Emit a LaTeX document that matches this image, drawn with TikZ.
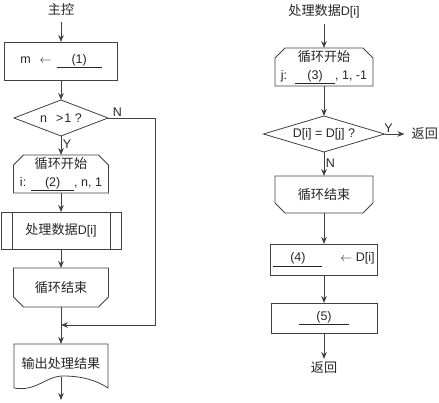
\documentclass[tikz,border=0pt]{standalone}
\usepackage{fontspec}
\setmainfont{Liberation Sans}
\newfontfamily\cjk[Scale=1.05]{Noto Sans CJK SC}
\usetikzlibrary{arrows.meta,positioning,shapes.geometric}
\tikzset{
    %Define standard arrow tip
    >={Stealth[length=7pt,width=5.5pt]},
    %Define style for boxes
    base/.style={
           draw=black!75,
           line width=0.8pt,
           inner sep=0pt,
           outer sep=0pt,
           font=\fontsize{12.5}{18}\selectfont,
           text=black!85,
           align=center},
    procbox/.style={
           base,
           rectangle,
           minimum width=113pt,
           minimum height=38pt},
    decision/.style={
           base,
           diamond,
           aspect=3,
           minimum width=94pt,
           minimum height=36pt},
    loopstart/.style={
           base,
           draw=none,
           rectangle,
           minimum width=95pt,
           minimum height=38pt,
           append after command={\pgfextra{
             \draw[line] ([yshift=-10pt]\tikzlastnode.north west) -- ([xshift=10pt]\tikzlastnode.north west)
               -- ([xshift=-10pt]\tikzlastnode.north east) -- ([yshift=-10pt]\tikzlastnode.north east)
               -- (\tikzlastnode.south east) -- (\tikzlastnode.south west) -- cycle;}}},
    loopend/.style={
           base,
           draw=none,
           rectangle,
           minimum width=95pt,
           minimum height=39pt,
           append after command={\pgfextra{
             \draw[line] ([yshift=10pt]\tikzlastnode.south west) -- ([xshift=10pt]\tikzlastnode.south west)
               -- ([xshift=-10pt]\tikzlastnode.south east) -- ([yshift=10pt]\tikzlastnode.south east)
               -- (\tikzlastnode.north east) -- (\tikzlastnode.north west) -- cycle;}}},
    predef/.style={
           procbox,
           minimum width=120pt,
           minimum height=37pt,
           path picture={
             \draw[black!75, line width=0.8pt]
               ([xshift=11pt]path picture bounding box.north west) -- ([xshift=11pt]path picture bounding box.south west)
               ([xshift=-11pt]path picture bounding box.north east) -- ([xshift=-11pt]path picture bounding box.south east);}},
    docbox/.style={
           base,
           draw=none,
           rectangle,
           text depth=6pt,
           minimum width=94pt,
           minimum height=44pt},
    plain/.style={
           font=\fontsize{12.5}{18}\selectfont,
           text=black!85,
           inner sep=2pt},
    lbl/.style={
           font=\fontsize{12.5}{14}\selectfont,
           text=black!85,
           inner sep=1.5pt},
    % Define arrow style
    line/.style={
           draw=black!75,
           line width=0.8pt},
    pil/.style={
           ->,
           line}
}
\newcommand{\fillin}[2][45pt]{\underline{\makebox[#1]{#2}}}

\begin{document}
\begin{tikzpicture}[x=1pt,y=1pt]
\useasboundingbox (0,0) rectangle (439,403);
 %left column
\node[procbox] (assign) at (61,342) {m\hspace{9pt}$\leftarrow$\hspace{5pt}\fillin[45pt]{(1)}};
\node[plain, above=24pt of assign] (main) {\cjk 主控};
\node[decision, below=20pt of assign] (cond1) {n\hspace{9pt}>\hspace{1pt}1 ?};
\node[loopstart, below=19pt of cond1] (loop1) {{\cjk 循环开始}\\i:\hspace{5pt}\fillin[43pt]{(2)}, n, 1};
\node[predef, below=19pt of loop1] (proc) {{\cjk 处理数据}D[i]};
\node[loopend, below=19pt of proc] (end1) {\cjk 循环结束};
\node[docbox, below=37pt of end1] (doc) {\cjk 输出处理结果};
\coordinate[below=18pt of end1] (merge);
\coordinate[below=12pt of doc] (out1);
 %right column
\node[loopstart, minimum width=98pt] (loop2) at (324,336) {{\cjk 循环开始}\\j:\hspace{8pt}\fillin[40pt]{(3)}, 1, -1};
\node[plain, above=28pt of loop2] (sub) {{\cjk 处理数据}D[i]};
\node[decision, minimum width=121pt, below=30pt of loop2] (cond2) {D[i] = D[j] ?};
\node[loopend, minimum width=98pt, minimum height=37pt, below=24pt of cond2] (end2) {\cjk 循环结束};
\node[procbox, minimum width=107pt, minimum height=31pt, below=31pt of end2] (assign4) {\fillin[49pt]{(4)}\hspace{18pt}$\leftarrow$ D[i]};
\node[procbox, minimum width=106pt, minimum height=30pt, below=28pt of assign4] (assign5) {\fillin[50pt]{(5)}};
\node[plain, below=26pt of assign5] (ret2) {\cjk 返回};
\node[plain, inner xsep=7pt, right=20pt of cond2] (ret1) {\cjk 返回};
 %document outline
\draw[line] (doc.south west) -- (doc.north west) -- (doc.north east) -- (doc.south east)
  .. controls +(-12,8) and +(18,0) .. ([xshift=2pt,yshift=12pt]doc.south)
  .. controls +(-17,0) and +(22,-4) .. (doc.south west);
 %edges
\draw[pil, shorten <=4pt] (main) -- (assign);
\draw[pil] (assign) -- (cond1);
\draw[pil] (cond1) -- node[lbl, right, pos=0.45]{Y} (loop1);
\draw[pil] (loop1) -- (proc);
\draw[pil] (proc) -- (end1);
\draw[pil] (end1) -- (doc);
\draw[pil] (cond1.east) -- node[lbl, above, pos=0.2]{N} ++(47,0) |- (merge);
\draw[pil] ([yshift=11pt]doc.south) -- (out1);
\draw[pil, shorten <=4pt] (sub) -- (loop2);
\draw[pil] (loop2) -- (cond2);
\draw[pil] (cond2) -- node[lbl, right, pos=0.45]{N} (end2);
\draw[pil] (cond2) -- node[lbl, above, pos=0.2]{Y} (ret1);
\draw[pil] (end2) -- (assign4);
\draw[pil] (assign4) -- (assign5);
\draw[pil] (assign5) -- (ret2);
\end{tikzpicture}
\end{document}
